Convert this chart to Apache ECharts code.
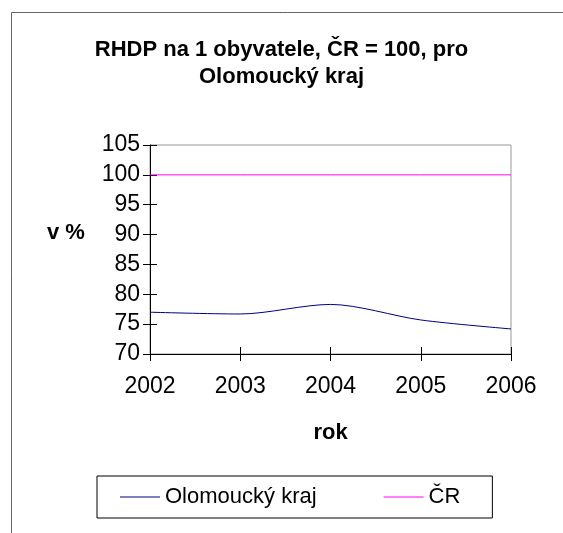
<!DOCTYPE html>
<html>
<head>
<meta charset="utf-8">
<script src="https://cdn.jsdelivr.net/npm/echarts@6/dist/echarts.min.js"></script>
<style>
html,body{margin:0;padding:0;background:#fff;}
#c{width:563px;height:533px;}
</style>
</head>
<body>
<div id="c"></div>
<script>
var years = ['2002', '2003', '2004', '2005', '2006'];
var olomoucky = [77.0, 76.7, 78.3, 75.7, 74.2];
var cr = [100, 100, 100, 100, 100];
var seriesNames = ['Olomoucký kraj', 'ČR'];
var titleText = 'RHDP na 1 obyvatele, ČR = 100, pro\nOlomoucký kraj';
var yName = 'v %';
var xName = 'rok';

var FONT = '"Liberation Sans", Arial, sans-serif';
var chart = echarts.init(document.getElementById('c'), null, {renderer: 'canvas'});
chart.setOption({
  animation: false,
  backgroundColor: '#fff',
  title: {
    text: titleText,
    left: 'center',
    top: 31,
    textStyle: {fontFamily: FONT, fontSize: 22, fontWeight: 'bold', color: '#000', lineHeight: 27}
  },
  graphic: [
    {type: 'rect', shape: {x: 11.5, y: 12.5, width: 700, height: 700}, style: {fill: 'none', stroke: '#666', lineWidth: 1}, z: 100},
    {type: 'text', left: 47, top: 222, style: {text: yName, fontFamily: FONT, fontSize: 22, fontWeight: 'bold', fill: '#000'}}
  ],
  legend: {
    left: 97,
    top: 476,
    data: seriesNames,
    icon: 'rect',
    itemWidth: 40,
    itemHeight: 1,
    itemGap: 67,
    padding: [10, 32, 10, 23],
    borderColor: '#000',
    borderWidth: 1,
    textStyle: {fontFamily: FONT, fontSize: 22, color: '#000'}
  },
  grid: {
    left: 150, top: 145, right: 52, bottom: 179,
    show: true, borderColor: '#999', borderWidth: 1, backgroundColor: 'transparent'
  },
  xAxis: [{
    type: 'category',
    data: years,
    boundaryGap: false,
    position: 'bottom',
    axisLine: {lineStyle: {color: '#000', width: 1}},
    axisTick: {show: true, length: 7, lineStyle: {color: '#000'}},
    axisLabel: {fontFamily: FONT, fontSize: 23, color: '#000', margin: 21},
    splitLine: {show: false},
    name: xName,
    nameLocation: 'middle',
    nameGap: 68,
    nameTextStyle: {fontFamily: FONT, fontSize: 22, fontWeight: 'bold', color: '#000'}
  }, {
    type: 'category',
    data: years,
    boundaryGap: false,
    position: 'bottom',
    axisLine: {show: false},
    axisTick: {show: true, inside: true, length: 7, lineStyle: {color: '#000'}},
    axisLabel: {show: false},
    splitLine: {show: false}
  }],
  yAxis: [{
    type: 'value',
    min: 70, max: 105, interval: 5,
    position: 'left',
    axisLine: {show: true, lineStyle: {color: '#000', width: 1}},
    axisTick: {show: true, length: 7, lineStyle: {color: '#000'}},
    axisLabel: {fontFamily: FONT, fontSize: 23, color: '#000', margin: 10},
    splitLine: {show: false}
  }, {
    type: 'value',
    min: 70, max: 105, interval: 5,
    position: 'left',
    offset: 0,
    axisLine: {show: false},
    axisTick: {show: true, inside: true, length: 7, lineStyle: {color: '#000'}},
    axisLabel: {show: false},
    splitLine: {show: false}
  }],
  series: [{
    name: seriesNames[0],
    type: 'line',
    data: olomoucky,
    smooth: 0.3,
    symbol: 'none',
    lineStyle: {color: '#000080', width: 1},
    itemStyle: {color: '#000080'}
  }, {
    name: seriesNames[1],
    type: 'line',
    data: cr,
    symbol: 'none',
    lineStyle: {color: '#FF00FF', width: 1},
    itemStyle: {color: '#FF00FF'}
  }]
});
</script>
</body>
</html>
